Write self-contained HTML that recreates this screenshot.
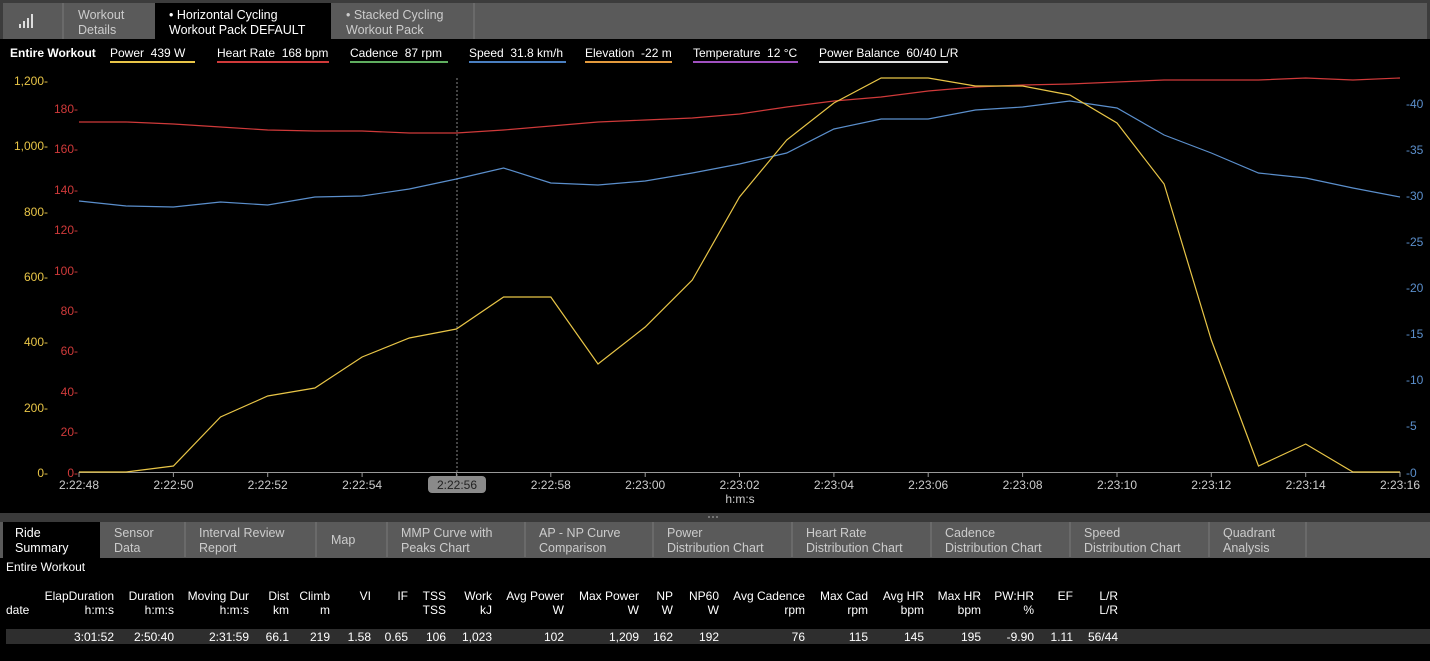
<!DOCTYPE html>
<html><head><meta charset="utf-8"><style>
body{margin:0;width:1430px;height:661px;background:#000;overflow:hidden;font-family:"Liberation Sans",sans-serif;}
svg{display:block}
text{font-family:"Liberation Sans",sans-serif;}
</style></head><body>
<svg width="1430" height="661" xmlns="http://www.w3.org/2000/svg">
<rect x="0" y="0" width="1430" height="39" fill="#3c3c3c"/>
<rect x="3" y="3" width="1424" height="36" fill="#5a5a5a"/>
<line x1="63" y1="3" x2="63" y2="39" stroke="#7a7a7a"/>
<line x1="474" y1="3" x2="474" y2="39" stroke="#7a7a7a"/>
<rect x="155" y="3" width="176" height="36" fill="#000"/>
<g fill="#ddd"><rect x="19" y="24" width="2" height="4"/><rect x="23" y="21" width="2" height="7"/><rect x="27" y="18" width="2" height="10"/><rect x="31" y="14" width="2" height="14"/></g>
<g font-size="12.5" fill="#ccc">
<text x="78" y="19">Workout</text><text x="78" y="34">Details</text>
<text x="169" y="19" fill="#fff">• Horizontal Cycling</text><text x="169" y="34" fill="#fff">Workout Pack DEFAULT</text>
<text x="346" y="19">• Stacked Cycling</text><text x="346" y="34">Workout Pack</text>
</g>
<g font-size="12" fill="#fff">
<text x="10" y="57" font-weight="bold">Entire Workout</text>
<text x="110" y="57">Power&#160; 439 W</text><rect x="110" y="61" width="85" height="2" fill="#e8c547"/>
<text x="217" y="57">Heart Rate&#160; 168 bpm</text><rect x="217" y="61" width="112" height="2" fill="#d03a3a"/>
<text x="350" y="57">Cadence&#160; 87 rpm</text><rect x="350" y="61" width="98" height="2" fill="#5fae5f"/>
<text x="469" y="57">Speed&#160; 31.8 km/h</text><rect x="469" y="61" width="97" height="2" fill="#4a7fc0"/>
<text x="585" y="57">Elevation&#160; -22 m</text><rect x="585" y="61" width="87" height="2" fill="#e39a3c"/>
<text x="693" y="57">Temperature&#160; 12 °C</text><rect x="693" y="61" width="105" height="2" fill="#a050c0"/>
<text x="819" y="57">Power Balance&#160; 60/40 L/R</text><rect x="819" y="61" width="129" height="2" fill="#ddd"/>
</g>
<g font-size="12" fill="#e8c547" text-anchor="end">
<text x="48" y="85">1,200-</text><text x="48" y="150">1,000-</text><text x="48" y="216">800-</text><text x="48" y="281">600-</text><text x="48" y="346">400-</text><text x="48" y="412">200-</text><text x="48" y="477">0-</text>
</g>
<g font-size="12" fill="#d03a3a" text-anchor="end">
<text x="78" y="113">180-</text><text x="78" y="153">160-</text><text x="78" y="194">140-</text><text x="78" y="234">120-</text><text x="78" y="275">100-</text><text x="78" y="315">80-</text><text x="78" y="355">60-</text><text x="78" y="396">40-</text><text x="78" y="436">20-</text><text x="78" y="477">0-</text>
</g>
<g font-size="12" fill="#5b8fcc">
<text x="1406" y="108">-40</text><text x="1406" y="154">-35</text><text x="1406" y="200">-30</text><text x="1406" y="246">-25</text><text x="1406" y="292">-20</text><text x="1406" y="338">-15</text><text x="1406" y="384">-10</text><text x="1406" y="430">-5</text><text x="1406" y="477">-0</text>
</g>
<line x1="79" y1="472.5" x2="1400" y2="472.5" stroke="#999"/>
<g stroke="#999">
<line x1="79" y1="472" x2="79" y2="477"/><line x1="173.4" y1="472" x2="173.4" y2="477"/><line x1="267.7" y1="472" x2="267.7" y2="477"/><line x1="362.1" y1="472" x2="362.1" y2="477"/><line x1="456.4" y1="472" x2="456.4" y2="477"/><line x1="550.8" y1="472" x2="550.8" y2="477"/><line x1="645.2" y1="472" x2="645.2" y2="477"/><line x1="739.5" y1="472" x2="739.5" y2="477"/><line x1="833.9" y1="472" x2="833.9" y2="477"/><line x1="928.2" y1="472" x2="928.2" y2="477"/><line x1="1022.6" y1="472" x2="1022.6" y2="477"/><line x1="1117" y1="472" x2="1117" y2="477"/><line x1="1211.3" y1="472" x2="1211.3" y2="477"/><line x1="1305.7" y1="472" x2="1305.7" y2="477"/><line x1="1400" y1="472" x2="1400" y2="477"/>
</g>
<line x1="457" y1="78" x2="457" y2="476" stroke="#888" stroke-dasharray="2,2"/>
<rect x="428" y="476" width="58" height="17" rx="4" fill="#8a8a8a"/>
<g font-size="12" fill="#ccc" text-anchor="middle">
<text x="79" y="489">2:22:48</text><text x="173.4" y="489">2:22:50</text><text x="267.7" y="489">2:22:52</text><text x="362.1" y="489">2:22:54</text><text x="457" y="489" fill="#222">2:22:56</text><text x="550.8" y="489">2:22:58</text><text x="645.2" y="489">2:23:00</text><text x="739.5" y="489">2:23:02</text><text x="833.9" y="489">2:23:04</text><text x="928.2" y="489">2:23:06</text><text x="1022.6" y="489">2:23:08</text><text x="1117" y="489">2:23:10</text><text x="1211.3" y="489">2:23:12</text><text x="1305.7" y="489">2:23:14</text><text x="1400" y="489">2:23:16</text>
<text x="740" y="503">h:m:s</text>
</g>
<g fill="none" stroke-width="1.2">
<polyline stroke="#d03a3a" points="79,122 126.2,122 173.4,124 220.5,127 267.7,130 314.9,131 362.1,131 409.3,133 456.4,133 503.6,130 550.8,126 598,122 645.2,120 692.3,118 739.5,114 786.7,107 833.9,101 881.1,97 928.2,91 975.4,87 1022.6,85 1069.8,84 1117,82 1164.1,80 1211.3,80 1258.5,80 1305.7,78 1352.9,80 1400,78"/>
<polyline stroke="#5b8fcc" points="79,201 126.2,206 173.4,207 220.5,202 267.7,205 314.9,197 362.1,196 409.3,189 456.4,179 503.6,168 550.8,183 598,185 645.2,181 692.3,173 739.5,164 786.7,153 833.9,129 881.1,119 928.2,119 975.4,110 1022.6,107 1069.8,101 1117,108 1164.1,135 1211.3,153 1258.5,173 1305.7,178 1352.9,188 1400,197"/>
<polyline stroke="#e8c547" points="79,472 126.2,472 173.4,466 220.5,417 267.7,396 314.9,388 362.1,357 409.3,338 456.4,329 503.6,297 550.8,297 598,364 645.2,327 692.3,280 739.5,197 786.7,140 833.9,103 881.1,78 928.2,78 975.4,86 1022.6,86 1069.8,95 1117,123 1164.1,184 1211.3,340 1258.5,466 1305.7,444 1352.9,472 1400,472"/>
</g>
<rect x="0" y="513" width="1430" height="7" fill="#3a3a3a"/>
<g fill="#888"><circle cx="709" cy="517" r="1"/><circle cx="713" cy="517" r="1"/><circle cx="717" cy="517" r="1"/></g>
<rect x="0" y="520" width="1430" height="38" fill="#5a5a5a"/>
<rect x="0" y="520" width="1430" height="2" fill="#3a3a3a"/>
<rect x="3" y="522" width="97" height="36" fill="#000"/>
<g stroke="#7a7a7a"><line x1="185" y1="522" x2="185" y2="557"/><line x1="316" y1="522" x2="316" y2="557"/><line x1="387" y1="522" x2="387" y2="557"/><line x1="525" y1="522" x2="525" y2="557"/><line x1="653" y1="522" x2="653" y2="557"/><line x1="792" y1="522" x2="792" y2="557"/><line x1="931" y1="522" x2="931" y2="557"/><line x1="1070" y1="522" x2="1070" y2="557"/><line x1="1209" y1="522" x2="1209" y2="557"/><line x1="1306" y1="522" x2="1306" y2="557"/></g>
<g font-size="12.5" fill="#ccc">
<text x="15" y="537" fill="#fff">Ride</text><text x="15" y="552" fill="#fff">Summary</text>
<text x="114" y="537">Sensor</text><text x="114" y="552">Data</text>
<text x="199" y="537">Interval Review</text><text x="199" y="552">Report</text>
<text x="331" y="544">Map</text>
<text x="401" y="537">MMP Curve with</text><text x="401" y="552">Peaks Chart</text>
<text x="539" y="537">AP - NP Curve</text><text x="539" y="552">Comparison</text>
<text x="667" y="537">Power</text><text x="667" y="552">Distribution Chart</text>
<text x="806" y="537">Heart Rate</text><text x="806" y="552">Distribution Chart</text>
<text x="945" y="537">Cadence</text><text x="945" y="552">Distribution Chart</text>
<text x="1084" y="537">Speed</text><text x="1084" y="552">Distribution Chart</text>
<text x="1223" y="537">Quadrant</text><text x="1223" y="552">Analysis</text>
</g>
<text x="6" y="571" font-size="12" fill="#fff">Entire Workout</text>
<rect x="6" y="629" width="1424" height="15" fill="#2e2e2e"/>
<text x="6" y="614" font-size="12" fill="#fff">date</text>
<g font-size="12" fill="#fff" text-anchor="end">
<text x="114" y="600">ElapDuration</text><text x="114" y="614">h:m:s</text><text x="114" y="641">3:01:52</text>
<text x="174" y="600">Duration</text><text x="174" y="614">h:m:s</text><text x="174" y="641">2:50:40</text>
<text x="249" y="600">Moving Dur</text><text x="249" y="614">h:m:s</text><text x="249" y="641">2:31:59</text>
<text x="289" y="600">Dist</text><text x="289" y="614">km</text><text x="289" y="641">66.1</text>
<text x="330" y="600">Climb</text><text x="330" y="614">m</text><text x="330" y="641">219</text>
<text x="371" y="600">VI</text><text x="371" y="641">1.58</text>
<text x="408" y="600">IF</text><text x="408" y="641">0.65</text>
<text x="446" y="600">TSS</text><text x="446" y="614">TSS</text><text x="446" y="641">106</text>
<text x="492" y="600">Work</text><text x="492" y="614">kJ</text><text x="492" y="641">1,023</text>
<text x="564" y="600">Avg Power</text><text x="564" y="614">W</text><text x="564" y="641">102</text>
<text x="639" y="600">Max Power</text><text x="639" y="614">W</text><text x="639" y="641">1,209</text>
<text x="673" y="600">NP</text><text x="673" y="614">W</text><text x="673" y="641">162</text>
<text x="719" y="600">NP60</text><text x="719" y="614">W</text><text x="719" y="641">192</text>
<text x="805" y="600">Avg Cadence</text><text x="805" y="614">rpm</text><text x="805" y="641">76</text>
<text x="868" y="600">Max Cad</text><text x="868" y="614">rpm</text><text x="868" y="641">115</text>
<text x="924" y="600">Avg HR</text><text x="924" y="614">bpm</text><text x="924" y="641">145</text>
<text x="981" y="600">Max HR</text><text x="981" y="614">bpm</text><text x="981" y="641">195</text>
<text x="1034" y="600">PW:HR</text><text x="1034" y="614">%</text><text x="1034" y="641">-9.90</text>
<text x="1073" y="600">EF</text><text x="1073" y="641">1.11</text>
<text x="1118" y="600">L/R</text><text x="1118" y="614">L/R</text><text x="1118" y="641">56/44</text>
</g>
</svg>
</body></html>
